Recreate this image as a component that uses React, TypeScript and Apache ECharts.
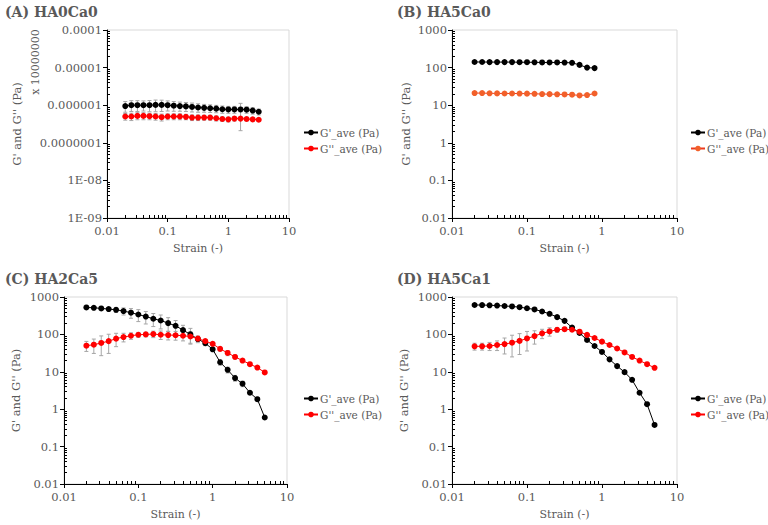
import React, { useEffect, useRef } from "react";
import * as echarts from "echarts";

// ---- data ----
const strain = [0.02, 0.0252, 0.0317, 0.0399, 0.0502, 0.0632, 0.0796, 0.1, 0.126, 0.159, 0.2, 0.252, 0.317, 0.399, 0.502, 0.632, 0.796, 1.0, 1.26, 1.59, 2.0, 2.52, 3.17, 3.99, 5.02];

const titles = ["(A) HA0Ca0", "(B) HA5Ca0", "(C) HA2Ca5", "(D) HA5Ca1"];
const seriesNames = ["G'_ave (Pa)", "G''_ave (Pa)"];
const xTickLabels = ["0.01", "0.1", "1", "10"];
const yTickLabelsA = ["1E-09", "1E-08", "0.0000001", "0.000001", "0.00001", "0.0001"];
const yTickLabelsB = ["0.01", "0.1", "1", "10", "100", "1000"];

// (A) HA0Ca0 (displayed values, x 10000000)
const gpA = [9.5e-7, 1.0e-6, 1.0e-6, 1.0e-6, 1.0e-6, 1.02e-6, 1.02e-6, 1.0e-6, 9.7e-7, 9.5e-7, 9.3e-7, 9.0e-7, 8.7e-7, 8.5e-7, 8.3e-7, 8.1e-7, 7.8e-7, 7.7e-7, 7.7e-7, 7.7e-7, 7.6e-7, 7.2e-7, 6.7e-7];
const gpAErr = [3.0e-7, 3.2e-7, 3.2e-7, 3.0e-7, 3.3e-7, 3.5e-7, 3.4e-7, 3.0e-7, 2.8e-7, 2.6e-7, 2.5e-7, 2.4e-7, 2.2e-7, 2.0e-7, 1.9e-7, 1.8e-7, 1.7e-7, 1.6e-7, 1.6e-7, 3.5e-7, 1.5e-7, 1.4e-7, 1.2e-7];
const gppA = [5.0e-7, 5.0e-7, 5.2e-7, 5.2e-7, 5.1e-7, 5.0e-7, 4.8e-7, 5.0e-7, 5.0e-7, 5.0e-7, 4.9e-7, 4.7e-7, 4.7e-7, 4.7e-7, 4.7e-7, 4.5e-7, 4.3e-7, 4.2e-7, 4.4e-7, 4.4e-7, 4.3e-7, 4.2e-7, 4.1e-7];
const gppAErr = [1.0e-7, 1.1e-7, 1.1e-7, 1.1e-7, 1.0e-7, 1.0e-7, 1.0e-7, 0.9e-7, 0.9e-7, 0.9e-7, 0.8e-7, 0.8e-7, 0.8e-7, 0.7e-7, 0.7e-7, 0.7e-7, 0.6e-7, 0.6e-7, 0.6e-7, 2.3e-7, 0.5e-7, 0.5e-7, 0.4e-7];

// (B) HA5Ca0
const gpB = [141, 141, 140, 140, 140, 140, 139, 139, 138, 137, 137, 137, 136, 134, 118, 100, 97];
const gpBErr = [4, 4, 4, 4, 4, 4, 4, 4, 4, 4, 4, 4, 4, 4, 4, 4, 4];
const gppB = [21, 21, 20.7, 20.6, 20.5, 20.5, 20.4, 20.3, 20.1, 19.8, 19.7, 19.5, 19.3, 19.0, 18.2, 18.6, 20.5];
const gppBErr = [1, 1, 1, 1, 1, 1, 1, 1, 1, 1, 1, 1, 1, 1, 1, 1, 1];

// (C) HA2Ca5
const gpC = [525, 515, 495, 475, 455, 420, 380, 340, 300, 262, 235, 200, 170, 130, 100, 75, 58, 40, 18, 11.3, 6.8, 4.8, 2.75, 1.85, 0.6];
const gpCErr = [30, 35, 40, 50, 70, 90, 110, 120, 110, 100, 95, 80, 65, 45, 45, 15, 8, 5, 3, 2, 1.2, 0.8, 0.3, 0.2, 0.05];
const gppC = [50, 53, 59, 66, 77, 85, 92, 98, 100, 102, 98, 96, 95, 92, 88, 77, 66, 56, 41, 32, 25, 20, 16, 13, 9.6];
const gppCErr = [15, 22, 32, 35, 30, 22, 18, 15, 14, 20, 25, 25, 25, 25, 30, 12, 8, 6, 5, 5, 3, 2, 1.5, 1, 0.6];

// (D) HA5Ca1
const gpD = [611, 610, 600, 590, 575, 560, 535, 500, 465, 410, 355, 290, 230, 152, 109, 71, 49, 34, 21.5, 14.2, 9.8, 6.1, 2.75, 1.36, 0.38];
const gpDErr = [20, 20, 20, 20, 20, 20, 20, 20, 20, 20, 20, 15, 12, 10, 6, 4, 3, 2, 1, 0.8, 0.5, 0.4, 0.2, 0.1, 0.03];
const gppD = [48, 48, 49, 52, 55, 60, 67, 78, 90, 107, 120, 133, 138, 133, 118, 97, 80, 64, 52, 42, 33, 25, 20, 16, 12.8];
const gppDErr = [10, 10, 12, 15, 25, 35, 38, 42, 35, 30, 30, 20, 15, 10, 8, 6, 4, 3, 2, 2, 1, 1, 1, 0.5, 0.5];

const panels = [
  { title: titles[0], n: 23, gp: gpA, gpErr: gpAErr, gpp: gppA, gppErr: gppAErr, yMin: 1e-9, yMax: 1e-4, yLabels: yTickLabelsA, redLine: "#ff0000", redSym: "#ff0000" },
  { title: titles[1], n: 17, gp: gpB, gpErr: gpBErr, gpp: gppB, gppErr: gppBErr, yMin: 0.01, yMax: 1000, yLabels: yTickLabelsB, redLine: "#ec3b1f", redSym: "#f2602a" },
  { title: titles[2], n: 25, gp: gpC, gpErr: gpCErr, gpp: gppC, gppErr: gppCErr, yMin: 0.01, yMax: 1000, yLabels: yTickLabelsB, redLine: "#ff0000", redSym: "#ff0000" },
  { title: titles[3], n: 25, gp: gpD, gpErr: gpDErr, gpp: gppD, gppErr: gppDErr, yMin: 0.01, yMax: 1000, yLabels: yTickLabelsB, redLine: "#ff0000", redSym: "#ff0000" },
];

// layout (pixels)
const grids = [
  { left: 107, top: 30, width: 182, height: 188, titleX: 5, titleY: 5, nameGap: 84, legendX: 303, legendY: 127 },
  { left: 452, top: 30, width: 225, height: 188, titleX: 397, titleY: 5, nameGap: 40, legendX: 690, legendY: 127 },
  { left: 64, top: 297, width: 223, height: 187, titleX: 5, titleY: 272, nameGap: 42, legendX: 303, legendY: 393 },
  { left: 452, top: 297, width: 225, height: 187, titleX: 397, titleY: 272, nameGap: 42, legendX: 690, legendY: 393 },
];

const FONT = "DejaVu Serif";
const GRAY = "#595959";

function minorValues(e0: number, e1: number) {
  const out: number[] = [];
  for (let k = e0; k < e1; k++) for (let m = 2; m <= 9; m++) out.push(m * Math.pow(10, k));
  return out;
}

function App() {
  const ref = useRef<HTMLDivElement>(null);
  useEffect(() => {
    const chart = echarts.init(ref.current!, null, { renderer: "svg" });

    const errorRender = (params: any, api: any) => {
      const x = api.value(0);
      const y = api.value(1);
      const e = api.value(2);
      const top = api.coord([x, y + e]);
      const bot = api.coord([x, Math.max(y - e, y * 0.05)]);
      const w = 2;
      const st = { stroke: "#a6a6a6", lineWidth: 1 };
      return {
        type: "group",
        children: [
          { type: "line", shape: { x1: top[0], y1: top[1], x2: bot[0], y2: bot[1] }, style: st },
          { type: "line", shape: { x1: top[0] - w, y1: top[1], x2: top[0] + w, y2: top[1] }, style: st },
          { type: "line", shape: { x1: bot[0] - w, y1: bot[1], x2: bot[0] + w, y2: bot[1] }, style: st },
        ],
      };
    };

    const xAxis: any[] = [];
    const yAxis: any[] = [];
    const grid: any[] = [];
    const series: any[] = [];
    const title: any[] = [];
    const legend: any[] = [];

    panels.forEach((p, i) => {
      const g = grids[i];
      const yExp0 = Math.round(Math.log10(p.yMin));
      const yExp1 = Math.round(Math.log10(p.yMax));

      grid.push({ left: g.left, top: g.top, width: g.width, height: g.height, show: true, borderColor: "#d9d9d9", borderWidth: 1 });
      // main x axis (labels, major ticks)
      xAxis.push({
        type: "log", logBase: 10, min: 0.01, max: 10, gridIndex: i, splitNumber: 3,
        name: "Strain (-)", nameLocation: "middle", nameGap: 25,
        nameTextStyle: { color: GRAY, fontFamily: FONT, fontSize: 11 },
        axisLine: { show: true, lineStyle: { color: "#000", width: 1 } },
        axisTick: { show: true, length: 4, lineStyle: { color: "#000" } },
        axisLabel: {
          color: GRAY, fontFamily: FONT, fontSize: 11.5, margin: 7,
          formatter: (v: number) => xTickLabels[Math.round(Math.log10(v)) + 2],
        },
        splitLine: { show: false },
      });
      // overlay x axis carrying only the minor ticks
      xAxis.push({
        type: "log", logBase: 10, min: 0.01, max: 10, gridIndex: i, position: "bottom",
        axisLine: { show: false },
        axisTick: { show: true, inside: true, length: 3, lineStyle: { color: "#000" }, customValues: minorValues(-2, 1) },
        axisLabel: { show: false },
        splitLine: { show: false },
      });
      yAxis.push({
        type: "log", logBase: 10, min: p.yMin, max: p.yMax, gridIndex: i, splitNumber: 5,
        name: "G' and G'' (Pa)", nameLocation: "middle", nameGap: g.nameGap,
        nameTextStyle: { color: GRAY, fontFamily: FONT, fontSize: 11.5 },
        axisLine: { show: true, lineStyle: { color: "#000", width: 1 } },
        axisTick: { show: true, length: 4, lineStyle: { color: "#000" } },
        axisLabel: {
          color: GRAY, fontFamily: FONT, fontSize: 11.5, margin: 5,
          formatter: (v: number) => p.yLabels[Math.round(Math.log10(v)) - yExp0],
        },
        splitLine: { show: false },
      });
      yAxis.push({
        type: "log", logBase: 10, min: p.yMin, max: p.yMax, gridIndex: i, position: "left",
        axisLine: { show: false },
        axisTick: { show: true, inside: true, length: 3, lineStyle: { color: "#000" }, customValues: minorValues(yExp0, yExp1) },
        axisLabel: { show: false },
        splitLine: { show: false },
      });
      title.push({
        text: p.title, left: g.titleX, top: g.titleY, padding: 0,
        textStyle: { color: GRAY, fontFamily: FONT, fontSize: 14, fontWeight: "bold" },
      });

      const xs = strain.slice(0, p.n);
      const n1 = seriesNames[0] + " ".repeat(i);
      const n2 = seriesNames[1] + " ".repeat(i);
      const xi = 2 * i;
      const yi = 2 * i;

      series.push({
        type: "custom", xAxisIndex: xi, yAxisIndex: yi, renderItem: errorRender, silent: true, z: 2,
        encode: { x: 0, y: 1 },
        data: xs.map((x, j) => [x, p.gp[j], p.gpErr[j]]),
      });
      series.push({
        type: "custom", xAxisIndex: xi, yAxisIndex: yi, renderItem: errorRender, silent: true, z: 2,
        encode: { x: 0, y: 1 },
        data: xs.map((x, j) => [x, p.gpp[j], p.gppErr[j]]),
      });
      series.push({
        type: "line", name: n1, xAxisIndex: xi, yAxisIndex: yi, z: 3,
        data: xs.map((x, j) => [x, p.gp[j]]),
        symbol: "circle", symbolSize: 6, showSymbol: true,
        lineStyle: { color: "#000", width: 1 }, itemStyle: { color: "#000" },
      });
      series.push({
        type: "line", name: n2, xAxisIndex: xi, yAxisIndex: yi, z: 4,
        data: xs.map((x, j) => [x, p.gpp[j]]),
        symbol: "circle", symbolSize: 6, showSymbol: true,
        lineStyle: { color: p.redLine, width: 1 }, itemStyle: { color: p.redSym },
      });
      legend.push({
        data: [n1, n2], left: g.legendX, top: g.legendY, orient: "vertical",
        itemGap: 5, itemWidth: 14, itemHeight: 7, padding: 0,
        formatter: (name: string) => name.trim(),
        textStyle: { color: GRAY, fontFamily: FONT, fontSize: 10.5, padding: [0, 0, 0, -3] },
      });
    });

    chart.setOption({
      animation: false,
      backgroundColor: "#fff",
      textStyle: { fontFamily: FONT },
      title, grid, xAxis, yAxis, series, legend,
      graphic: [
        {
          type: "text", x: 35, y: 62, rotation: Math.PI / 2, silent: true,
          style: { text: "x 10000000", fill: GRAY, fontFamily: FONT, fontSize: 11, align: "center", verticalAlign: "middle" },
        },
      ],
    });
    return () => chart.dispose();
  }, []);
  return <div ref={ref} style={{ position: "fixed", left: 0, top: 0, width: 768, height: 525 }} />;
}

export default App;
